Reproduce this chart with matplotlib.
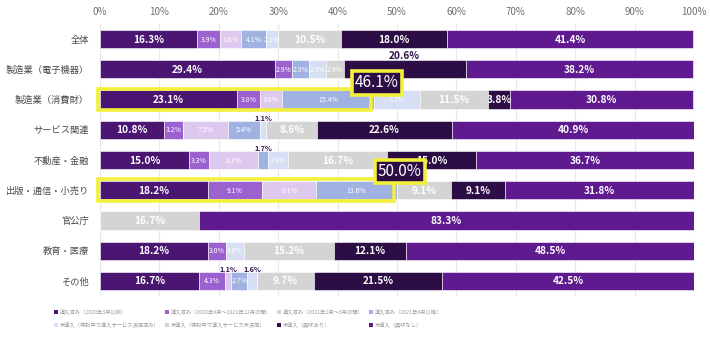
import numpy as np
import matplotlib.pyplot as plt
from matplotlib.patches import Patch, Rectangle

plt.rcParams['font.family'] = ['Noto Sans CJK JP', 'DejaVu Sans']

# industries, top to bottom
industries = ["全体", "製造業（電子機器）", "製造業（消費財）", "サービス関連",
              "不動産・金融", "出版・通信・小売り", "官公庁", "教育・医療", "その他"]

series_names = ["導入済み（2020年3月以前）",
                "導入済み（2020年4月～2021年12月の間）",
                "導入済み（2021年1月～3月の間）",
                "導入済み（2021年4月以降）",
                "未導入（検討中で導入サービス決定済み）",
                "未導入（検討中で導入サービス未決定）",
                "未導入（興味あり）",
                "未導入（興味なし）"]

colors = ["#4b1572", "#9b62cf", "#ddc9ee", "#a0b2e2",
          "#d6dff4", "#d4d4d4", "#2d0d45", "#5f1a8f"]

# percentages per series (one value per industry)
s1 = [16.3, 29.4, 23.1, 10.8, 15.0, 18.2, 0.0, 18.2, 16.7]
s2 = [3.9, 2.9, 3.8, 3.2, 3.3, 9.1, 0.0, 3.0, 4.3]
s3 = [3.6, 0.0, 3.8, 7.5, 8.3, 9.1, 0.0, 0.0, 1.1]
s4 = [4.1, 2.9, 15.4, 5.4, 1.7, 13.6, 0.0, 0.0, 2.7]
s5 = [2.1, 2.9, 7.7, 1.1, 3.3, 0.0, 0.0, 3.0, 1.6]
s6 = [10.5, 2.9, 11.5, 8.6, 16.7, 9.1, 16.7, 15.2, 9.7]
s7 = [18.0, 20.6, 3.8, 22.6, 15.0, 9.1, 0.0, 12.1, 21.5]
s8 = [41.4, 38.2, 30.8, 40.9, 36.7, 31.8, 83.3, 48.5, 42.5]
series = [s1, s2, s3, s4, s5, s6, s7, s8]

# rows that get a yellow highlight (sum of the four "導入済み" series)
highlight_rows = [2, 5]
# labels that sit above the bar even though they are wide enough
above_extra = [(1, 6)]

fig = plt.figure(figsize=(7.10, 3.41), dpi=100)
ax = fig.add_axes([100 / 710, 1 - 296 / 341, 594 / 710, 272 / 341])

y = np.arange(len(industries))
bar_h = 0.6
left = np.zeros(len(industries))
for i, vals in enumerate(series):
    vals = np.array(vals)
    ax.barh(y, vals, left=left, height=bar_h, color=colors[i],
            edgecolor="#ffffff", linewidth=0.4, zorder=2)
    for r, v in enumerate(vals):
        if v <= 0:
            continue
        cx = left[r] + v / 2
        small = i in (1, 2, 3, 4) or v < 3
        if v < 2 or (r, i) in above_extra:
            fs = 5.2 if v < 2 else 7.3
            ax.text(cx, y[r] - bar_h / 2 + 0.03, f"{v:.1f}%", ha="center", va="bottom",
                    fontsize=fs, color="#2d0d45", fontweight="bold", zorder=4)
        else:
            ax.text(cx, y[r] + 0.02, f"{v:.1f}%", ha="center", va="center",
                    fontsize=5 if small else 7.3, color="white",
                    fontweight="bold" if not small else "normal", zorder=4)
    left += vals

# highlight boxes
for r, dy in zip(highlight_rows, [0.55, 0.62]):
    total = sum(series[k][r] for k in range(4))
    ax.add_patch(Rectangle((-0.3, y[r] - 0.36), total - 0.2, 0.72, fill=False,
                           edgecolor="#f3f03c", linewidth=2.6, zorder=5, clip_on=False))
    ax.text(total + 0.5, y[r] - dy, f"{total:.1f}%", ha="center", va="center",
            fontsize=11, color="white", zorder=6,
            bbox=dict(boxstyle="square,pad=0.22", facecolor="#2d0d45",
                      edgecolor="#f3f03c", linewidth=2.6))

ax.set_xlim(0, 100)
ax.set_ylim(len(industries) - 0.5, -0.5)
ax.set_xticks(np.arange(0, 101, 10))
ax.set_xticklabels([f"{t}%" for t in range(0, 101, 10)])
ax.xaxis.tick_top()
ax.tick_params(axis="x", length=0, pad=5, labelsize=7, labelcolor="#707070")
ax.set_yticks(y)
ax.set_yticklabels(industries)
ax.tick_params(axis="y", length=0, pad=8, labelsize=6.7, labelcolor="#4a4a4a")
ax.grid(axis="x", color="#e8e8e8", linewidth=0.8, zorder=0)
ax.set_axisbelow(True)
for sp in ax.spines.values():
    sp.set_visible(False)

handles = [Patch(facecolor=c, edgecolor="none") for c in colors]
order = [0, 4, 1, 5, 2, 6, 3, 7]
fig.legend([handles[k] for k in order], [series_names[k] for k in order],
           loc="upper left", bbox_to_anchor=(52 / 710, 1 - 307 / 341), ncol=4,
           frameon=False, fontsize=3.8, labelcolor="#999999",
           handlelength=0.8, handleheight=0.8, handletextpad=0.3,
           columnspacing=1.0, labelspacing=1.4, borderaxespad=0)

fig.savefig("out.png", dpi=100)
